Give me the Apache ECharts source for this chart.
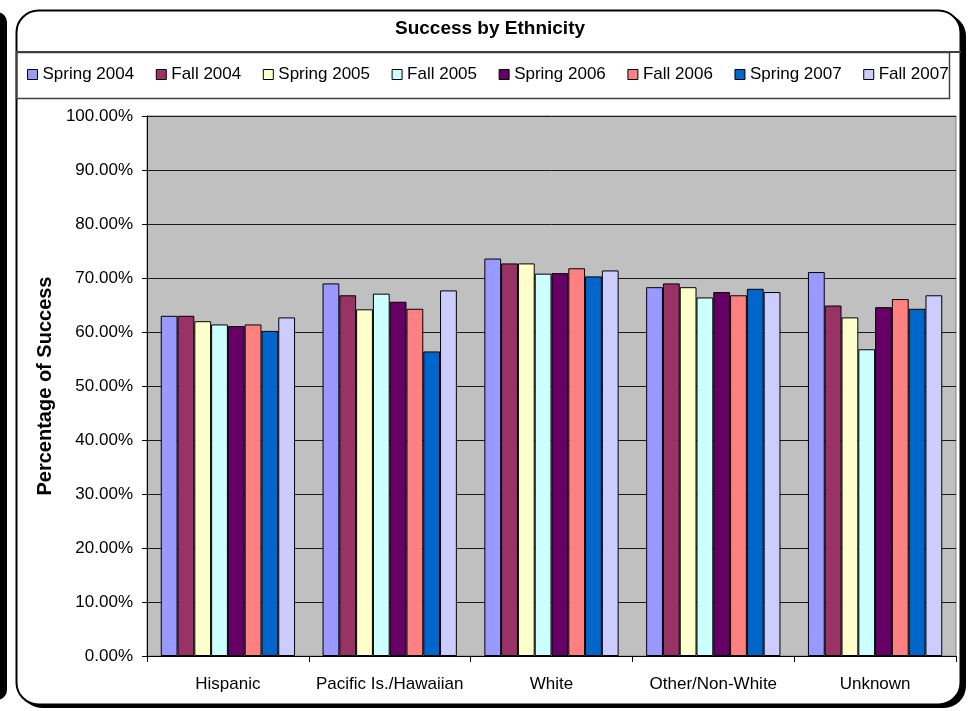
<!DOCTYPE html>
<html>
<head>
<meta charset="utf-8">
<script src="https://cdn.jsdelivr.net/npm/echarts@6/dist/echarts.min.js"></script>
<style>html,body{margin:0;padding:0;background:#fff}#c{width:972px;height:711px}</style>
</head>
<body>
<div id="c"></div>
<script>
var categories = ["Hispanic", "Pacific Is./Hawaiian", "White", "Other/Non-White", "Unknown"];
var seriesNames = ["Spring 2004", "Fall 2004", "Spring 2005", "Fall 2005", "Spring 2006", "Fall 2006", "Spring 2007", "Fall 2007"];
var colors = ["#9999FF", "#993366", "#FFFFCC", "#CCFFFF", "#660066", "#FF8080", "#0066CC", "#CCCCFF"];
var spring2004 = [63.0, 69.0, 73.6, 68.3, 71.1];
var fall2004   = [63.0, 66.8, 72.7, 69.0, 64.9];
var spring2005 = [62.0, 64.2, 72.7, 68.3, 62.7];
var fall2005   = [61.4, 67.1, 70.8, 66.4, 56.8];
var spring2006 = [61.1, 65.6, 70.9, 67.4, 64.6];
var fall2006   = [61.4, 64.3, 71.8, 66.8, 66.1];
var spring2007 = [60.2, 56.4, 70.3, 68.0, 64.3];
var fall2007   = [62.7, 67.7, 71.4, 67.4, 66.8];
var allValues = [spring2004, fall2004, spring2005, fall2005, spring2006, fall2006, spring2007, fall2007];

var chart = echarts.init(document.getElementById('c'), null, {renderer: 'canvas'});
var font = 'Liberation Sans, Arial, sans-serif';
var series = seriesNames.map(function (n, i) {
  return {
    name: n, type: 'bar', data: allValues[i],
    barGap: '0%', barCategoryGap: '17%',
    itemStyle: {color: colors[i], borderColor: '#000', borderWidth: 1},
    z: 3
  };
});
var option = {
  animation: false,
  backgroundColor: '#fff',
  textStyle: {fontFamily: font},
  graphic: [
    {type: 'rect', z: -10, shape: {x: -30, y: 12, width: 37, height: 688, r: 10}, style: {fill: '#000'}},
    {type: 'rect', z: -10, shape: {x: 20, y: 14, width: 946, height: 694, r: 22}, style: {fill: '#000'}},
    {type: 'rect', z: -9, shape: {x: 16.5, y: 10.5, width: 944, height: 694, r: 22}, style: {fill: '#fff', stroke: '#000', lineWidth: 2}},
    {type: 'line', z: -8, shape: {x1: 16, y1: 52, x2: 961, y2: 52}, style: {stroke: '#404040', lineWidth: 2}},
    {type: 'rect', z: -8, shape: {x: 16.5, y: 52.5, width: 933, height: 46}, style: {fill: 'none', stroke: '#404040', lineWidth: 1.5}}
  ],
  title: {
    text: 'Success by Ethnicity', left: 490, textAlign: 'center', top: 19, padding: 0,
    textStyle: {fontFamily: font, fontSize: 19, fontWeight: 'bold', color: '#000'}
  },
  legend: {
    data: seriesNames, left: 27, top: 66, padding: 0, itemGap: 21.6,
    itemWidth: 10, itemHeight: 10, icon: 'rect',
    itemStyle: {borderColor: '#000', borderWidth: 1},
    textStyle: {fontFamily: font, fontSize: 17, color: '#000', padding: [0, 0, 0, 0]}
  },
  grid: {left: 147, right: 16, top: 116, bottom: 55, show: true, backgroundColor: '#C0C0C0', borderColor: '#808080', borderWidth: 1},
  xAxis: {
    type: 'category', data: categories,
    axisLine: {lineStyle: {color: '#000', width: 1}},
    axisTick: {show: true, interval: 0, length: 6, lineStyle: {color: '#000'}},
    axisLabel: {interval: 0, fontFamily: font, fontSize: 17, color: '#000', margin: 20}
  },
  yAxis: {
    type: 'value', min: 0, max: 100, interval: 10,
    name: 'Percentage of Success', nameLocation: 'middle', nameGap: 92,
    nameTextStyle: {fontFamily: font, fontSize: 20, fontWeight: 'bold', color: '#000'},
    axisLine: {show: true, lineStyle: {color: '#000'}},
    axisTick: {show: true, length: 5, inside: false, lineStyle: {color: '#000'}},
    axisLabel: {fontFamily: font, fontSize: 17, color: '#000', margin: 14, formatter: function (v) { return v.toFixed(2) + '%'; }},
    splitLine: {show: true, lineStyle: {color: '#1a1a1a', width: 1}}
  },
  series: series
};
chart.setOption(option);
</script>
</body>
</html>
